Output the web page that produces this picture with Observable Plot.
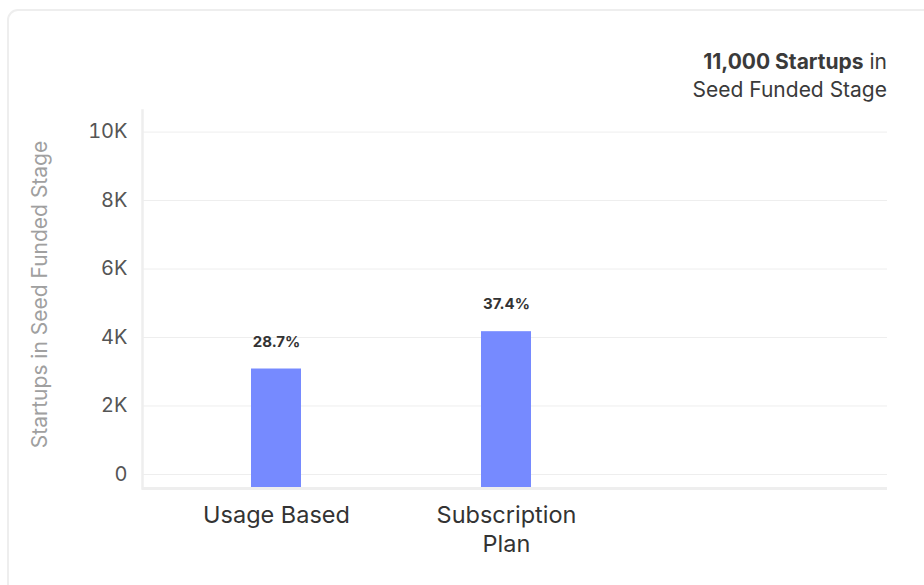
<!DOCTYPE html>
<html>
<head>
<meta charset="utf-8">
<script src="https://cdn.jsdelivr.net/npm/d3@7"></script>
<script src="https://cdn.jsdelivr.net/npm/@observablehq/plot@0.6"></script>
<style>
  html, body { margin: 0; padding: 0; background: #fff; width: 924px; height: 585px; overflow: hidden; font-family: Inter, "Noto Sans", sans-serif; }
  #card { position: absolute; left: 7px; top: 9px; width: 960px; height: 640px; border: 2px solid #eeeeee; border-radius: 11px; box-sizing: border-box; }
  #title { position: absolute; right: 37px; top: 48px; text-align: right; font-size: 21px; line-height: 28px; color: #3a3a3a; }
  #title b { font-weight: 700; }
  #chart { position: absolute; left: 0; top: 0; }
</style>
</head>
<body>
<div id="card"></div>
<div id="title"><b>11,000 Startups</b> in<br>Seed Funded Stage</div>
<div id="chart"></div>
<script>
const categories = ["Usage Based", "Subscription Plan"];
const tickLabels = ["Usage Based", "Subscription\nPlan"];
const values = [3080, 4170];
const percents = ["28.7%", "37.4%"];
const yTicks = [0, 2000, 4000, 6000, 8000, 10000];
const yTickLabels = ["0", "2K", "4K", "6K", "8K", "10K"];
const yLabel = "Startups in Seed Funded Stage";
const yDomain = [-410, 10630];

const data = categories.map((c, i) => ({cat: c, value: values[i], pct: percents[i]}));

const chart = Plot.plot({
  width: 924,
  height: 585,
  marginLeft: 142,
  marginRight: 37,
  marginTop: 110,
  marginBottom: 97,
  style: {fontFamily: "Inter, sans-serif", background: "transparent", overflow: "visible"},
  x: {domain: categories, range: [135.5, 645.5], paddingInner: 0.783, paddingOuter: 0.5, align: 0.5},
  y: {domain: yDomain},
  marks: [
    Plot.gridY(yTicks, {stroke: "#eeeeee", strokeOpacity: 1, strokeWidth: 1}),
    Plot.rectY(data, {x: "cat", y1: yDomain[0], y2: "value", fill: "#768aff"}),
    Plot.ruleY([yDomain[0]], {stroke: "#eeeeee", strokeWidth: 3}),
    Plot.frame({anchor: "left", stroke: "#eeeeee", strokeWidth: 2.5}),
    Plot.text(data, {x: "cat", y: "value", text: "pct", dy: -27, fontSize: 15, fontWeight: 700, fill: "#333"}),
    Plot.axisY({ticks: yTicks, tickSize: 0, tickPadding: 15, tickFormat: d => yTickLabels[yTicks.indexOf(d)], fontSize: 20, fill: "#555", label: null}),
    Plot.axisX({tickSize: 0, tickPadding: 14, tickFormat: d => tickLabels[categories.indexOf(d)], fontSize: 23.5, lineHeight: 1.23, fill: "#333", label: null}),
    Plot.text([yLabel], {frameAnchor: "left", rotate: -90, dx: -102, dy: -5, fontSize: 21, fill: "#a0a0a0", textAnchor: "middle", lineAnchor: "middle"})
  ]
});
document.getElementById("chart").appendChild(chart);
</script>
</body>
</html>
